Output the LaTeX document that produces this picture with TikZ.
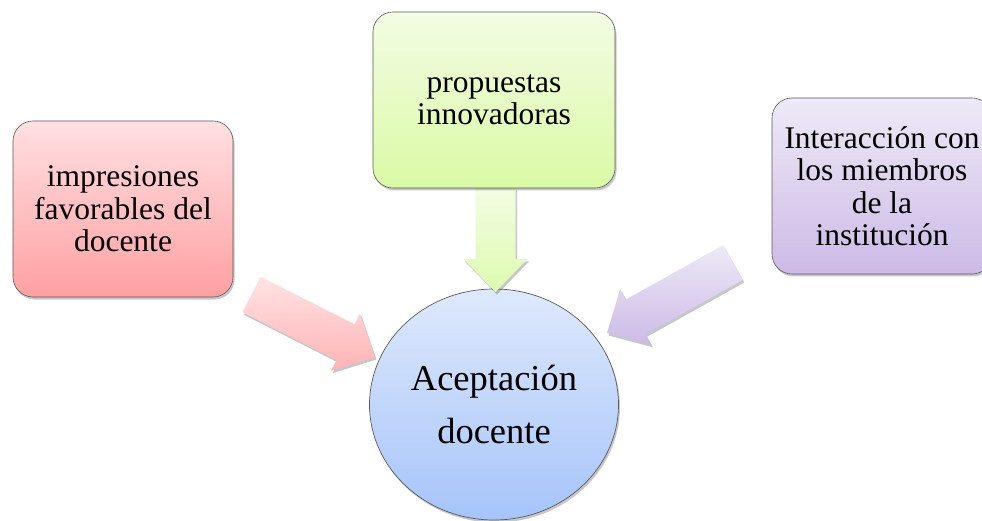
\documentclass[tikz,border=0pt]{standalone}
\usepackage{fontspec}
\setmainfont{Liberation Serif}
\usetikzlibrary{calc,shadows,shapes.geometric}
\definecolor{redTop}{RGB}{255,224,226}
\definecolor{redBot}{RGB}{255,160,162}
\definecolor{greenTop}{RGB}{243,252,228}
\definecolor{greenBot}{RGB}{218,250,165}
\definecolor{purpTop}{RGB}{238,234,247}
\definecolor{purpBot}{RGB}{204,186,230}
\definecolor{blueTop}{RGB}{222,233,252}
\definecolor{blueBot}{RGB}{166,196,250}
\definecolor{edge}{RGB}{90,90,90}
\tikzset{
  softshadow/.style={drop shadow={shadow xshift=1.5pt, shadow yshift=-2.5pt, opacity=0.22, fill=black}},
  boxnode/.style={rectangle, rounded corners=20pt, draw=edge, line width=0.6pt,
    minimum height=176pt, inner sep=0pt, align=center,
    font=\fontsize{31.5}{32.5}\selectfont, softshadow},
  hubnode/.style={ellipse, draw=edge, line width=0.7pt, minimum width=249pt,
    minimum height=231pt, inner sep=0pt, align=center,
    font=\fontsize{36.5}{53}\selectfont, top color=blueTop, bottom color=blueBot, softshadow},
  redarrow/.style={top color=redTop!90, bottom color=redBot!80, softshadow},
  greenarrow/.style={top color=greenTop, bottom color=greenBot!90, softshadow},
  purparrow/.style={top color=purpTop, bottom color=purpBot, softshadow}
}
\newcommand{\blockarrow}[3]{%
  \coordinate (#2base) at ($(#3)!33pt!(#2)$);
  \path[#1] ($(#2)!20pt!90:(#3)$) -- ($(#2base)!20pt!90:(#3)$) -- ($(#2base)!32pt!90:(#3)$)
    -- (#3) -- ($(#2base)!32pt!-90:(#3)$) -- ($(#2base)!20pt!-90:(#3)$)
    -- ($(#2)!20pt!-90:(#3)$) -- cycle;}
\begin{document}
\begin{tikzpicture}[x=1pt,y=-1pt]
\useasboundingbox[fill=white] (0,0) rectangle (982,521);
% hub
\node[hubnode] (acc) at (494,404.5) {Aceptación\\docente};
% arrow ends
\coordinate (lt) at (251.5,294.5);
\coordinate (lp) at (375,357);
\coordinate (mt) at (495.5,188);
\coordinate (mp) at (495.5,292);
\coordinate (rt) at (733,262.5);
\coordinate (rp) at (607,333);
\blockarrow{redarrow}{lt}{lp}
\blockarrow{greenarrow}{mt}{mp}
\blockarrow{purparrow}{rt}{rp}
% boxes
\node[boxnode, minimum width=220pt, top color=redTop, bottom color=redBot] (imp) at (123,209)
  {impresiones\\favorables del\\docente};
\node[boxnode, minimum width=242pt, top color=greenTop, bottom color=greenBot] (pro) at (494,100)
  {propuestas\\innovadoras};
\node[boxnode, minimum width=220pt, top color=purpTop, bottom color=purpBot] (int) at (882,186)
  {Interacción con\\los miembros\\de la\\institución};
\end{tikzpicture}
\end{document}
